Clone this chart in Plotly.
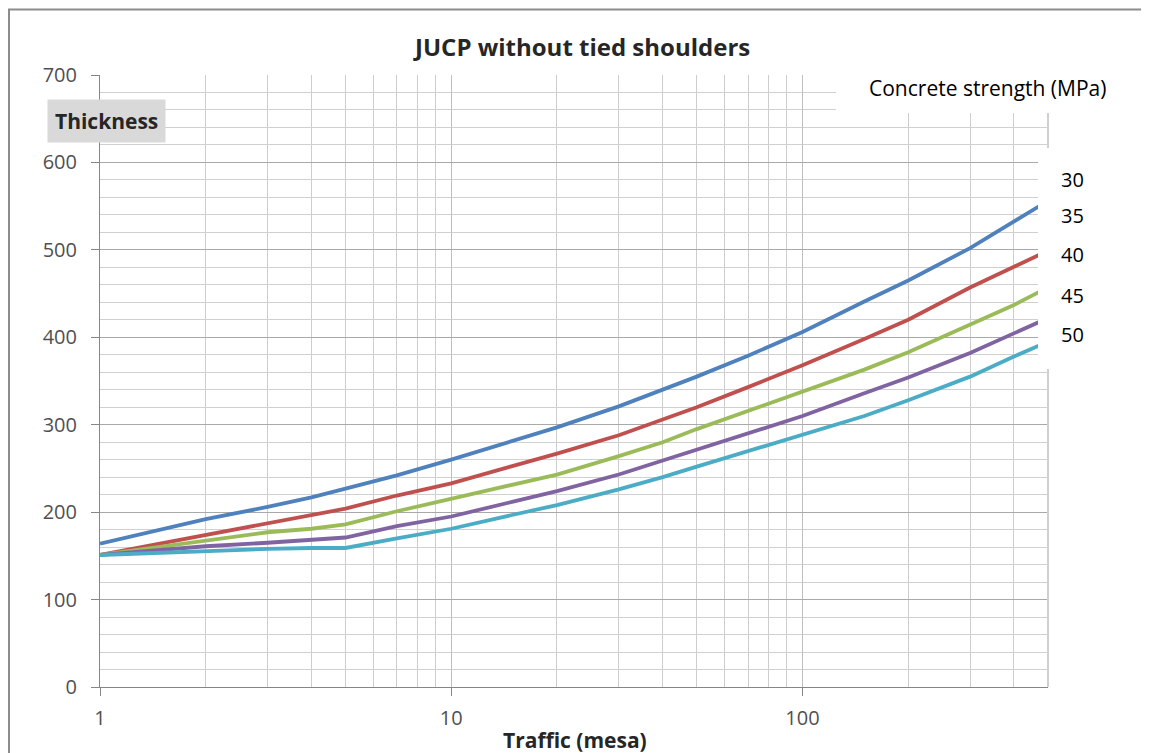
import numpy as np
import plotly.graph_objects as go

# traffic (million ESA) and required thickness (mm) per concrete strength
traffic = [1, 2, 3, 4, 5, 7, 10, 15, 20, 30, 40, 50, 70, 100, 150, 200, 300, 400, 500]
mpa_30 = [164, 192, 206, 217, 227, 242, 260, 281, 297, 321, 340, 355, 379, 406, 441, 465, 502, 532, 556]
mpa_35 = [151, 174, 187, 196, 204, 219, 233, 253, 267, 288, 306, 320, 343, 368, 398, 420, 457, 481, 499]
mpa_40 = [151, 168, 177, 181, 186, 201, 215, 231, 243, 264, 280, 295, 316, 338, 363, 383, 414, 437, 457]
mpa_45 = [151, 161, 165, 168, 171, 184, 195, 212, 224, 243, 259, 271, 290, 310, 336, 354, 382, 405, 422]
mpa_50 = [151, 156, 158, 159, 159, 170, 181, 197, 208, 226, 240, 252, 270, 288, 310, 328, 355, 378, 395]

series = {"30": mpa_30, "35": mpa_35, "40": mpa_40, "45": mpa_45, "50": mpa_50}
colors = ["#4F81BD", "#C0504D", "#9BBB59", "#8064A2", "#4BACC6"]

# page body adds an 8px margin, so the figure is 8px smaller than the window
W, H = 1141, 745
L, R, T, B = 92, 101, 67, 66
FONT = "Open Sans"


# helpers: reference-picture pixels -> paper coords
def px(X):
    return (X - 100) / 948


def py(Y):
    return (687 - Y) / 612


fig = go.Figure()
for (name, vals), c in zip(series.items(), colors):
    fig.add_trace(go.Scatter(x=traffic, y=vals, mode="lines", name=name,
                             line=dict(color=c, width=3.8)))

minor_x = [k * 10 ** p for p in range(3) for k in range(2, 10) if k * 10 ** p < 500]

fig.update_xaxes(
    type="log", range=[0, np.log10(500)],
    tickvals=[1, 10, 100], ticktext=["1", "10", "100"],
    ticks="outside", ticklen=8, tickcolor="#868686",
    ticklabelstandoff=5,
    showgrid=True, gridcolor="#bfbfbf", gridwidth=1,
    minor=dict(tickvals=minor_x, showgrid=True, gridcolor="#cdcdcd", ticks=""),
    showline=True, linecolor="#868686", linewidth=1,
    tickfont=dict(family=FONT, size=20, color="#505050"),
    zeroline=False,
)
fig.update_yaxes(
    range=[0, 700], dtick=100,
    ticks="outside", ticklen=8, tickcolor="#868686",
    ticklabelstandoff=10,
    showgrid=True, gridcolor="#a9a9a9", gridwidth=1,
    minor=dict(dtick=20, showgrid=True, gridcolor="#d0d0d0", ticks=""),
    showline=True, linecolor="#868686", linewidth=1,
    tickfont=dict(family=FONT, size=20, color="#505050"),
    zeroline=False,
)

shapes = [
    # right edge of plot area
    dict(type="line", xref="paper", yref="paper", x0=1, x1=1, y0=0, y1=py(113),
         line=dict(color="#d0d0d0", width=2), layer="above"),
    # white boxes behind the legend texts
    dict(type="rect", xref="paper", yref="paper", x0=px(836), x1=px(1160),
         y0=py(113), y1=py(62), fillcolor="white", line=dict(width=0), layer="above"),
    dict(type="rect", xref="paper", yref="paper", x0=px(1038), x1=px(1160),
         y0=py(369), y1=py(148), fillcolor="white", line=dict(width=0), layer="above"),
    # outer chart border
    dict(type="rect", xref="paper", yref="paper", x0=px(9), x1=px(1200),
         y0=py(800), y1=py(9.5), line=dict(color="#8c8c8c", width=2), layer="above"),
]

annotations = [
    dict(text="<b>JUCP without tied shoulders</b>", x=px(581), y=py(47),
         font=dict(family=FONT, size=24, color="#262626")),
    dict(text="<b>Thickness</b>", x=px(106), y=py(121), bgcolor="#d9d9d9",
         borderpad=7, font=dict(family=FONT, size=21, color="#262626")),
    dict(text="<b>Traffic (mesa)</b>", x=px(575), y=py(740),
         font=dict(family=FONT, size=21, color="#262626")),
    dict(text="Concrete strength (MPa)", x=px(987), y=py(88),
         font=dict(family=FONT, size=21, color="#000000")),
]
label_y = [180, 216, 255, 295, 334]
for name, yy in zip(series.keys(), label_y):
    annotations.append(dict(text=name, x=px(1072), y=py(yy),
                            font=dict(family=FONT, size=20, color="#000000")))
for a in annotations:
    a.update(xref="paper", yref="paper", showarrow=False, xanchor="center", yanchor="middle")

fig.update_layout(
    width=W, height=H,
    margin=dict(l=L, r=R, t=T, b=B),
    paper_bgcolor="white", plot_bgcolor="white",
    showlegend=False,
    shapes=shapes,
    annotations=annotations,
)

fig.write_html("out.html")
